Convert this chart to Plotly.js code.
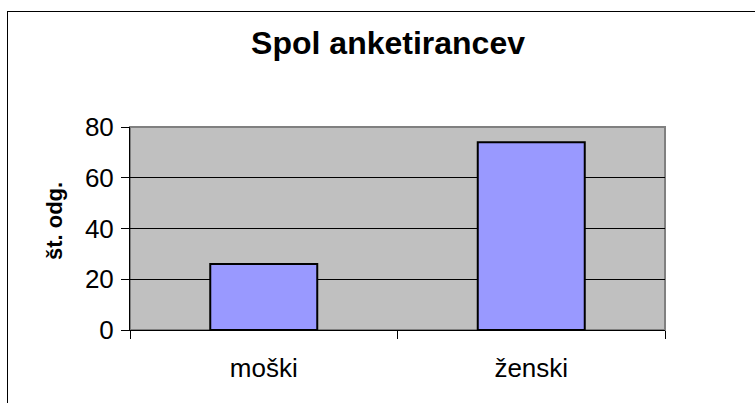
<!DOCTYPE html>
<html>
<head>
<meta charset="utf-8">
<script src="https://cdn.plot.ly/plotly-3.0.1.min.js"></script>
<style>
html,body{margin:0;padding:0;background:#fff;}
#wrap{position:relative;width:755px;height:403px;overflow:hidden;}
#frame{position:absolute;left:7px;top:11px;width:760px;height:400px;border:1px solid #000;box-sizing:border-box;pointer-events:none;z-index:5;}
#chart{position:absolute;left:0;top:0;width:755px;height:403px;}
</style>
</head>
<body>
<div id="wrap">
<div id="chart"></div>
<div id="frame"></div>
</div>
<script>
const categories = ["moški", "ženski"];
const values = [26, 74];
const yTicks = [0, 20, 40, 60, 80];
const chartTitle = "Spol anketirancev";
const yTitle = "št. odg.";

const font = "'Liberation Sans', Arial, sans-serif";
const data = [{
  type: "bar",
  x: categories,
  y: values,
  marker: {color: "#9999FF", line: {color: "#000000", width: 2}},
  hoverinfo: "none"
}];
const layout = {
  width: 755, height: 403,
  margin: {l: 130, r: 90, t: 127, b: 73, pad: 0},
  paper_bgcolor: "rgba(0,0,0,0)",
  plot_bgcolor: "#C0C0C0",
  bargap: 0.6,
  showlegend: false,
  font: {family: font, color: "#000", size: 26},
  title: {text: "<b>" + chartTitle + "</b>", font: {family: font, size: 32, color: "#000"}, x: 0.514, xanchor: "center", y: 0.895, yanchor: "middle"},
  xaxis: {
    showgrid: false, zeroline: false,
    showline: true, linecolor: "#000", linewidth: 1,
    ticks: "outside", tickson: "boundaries", ticklen: 8, tickcolor: "#000", tickwidth: 1,
    tickfont: {family: font, size: 26, color: "#000"},
    ticklabelstandoff: 15
  },
  yaxis: {
    range: [0, 80], tickvals: yTicks,
    showgrid: true, gridcolor: "#000", gridwidth: 1,
    zeroline: false,
    showline: true, linecolor: "#000", linewidth: 1,
    ticks: "outside", ticklen: 8, tickcolor: "#000", tickwidth: 1,
    tickfont: {family: font, size: 26, color: "#000"},
    ticklabelstandoff: 2
  },
  annotations: [{
    text: "<b>" + yTitle + "</b>", textangle: -90,
    xref: "paper", yref: "paper", x: -0.14, y: 0.537,
    xanchor: "center", yanchor: "middle", showarrow: false,
    font: {family: font, size: 22, color: "#000"}
  }],
  shapes: [{
    type: "rect", xref: "paper", yref: "paper", x0: 0, x1: 1, y0: 0, y1: 1,
    line: {color: "#808080", width: 2}, layer: "below"
  }]
};
Plotly.newPlot("chart", data, layout, {staticPlot: true, displayModeBar: false});
</script>
</body>
</html>
